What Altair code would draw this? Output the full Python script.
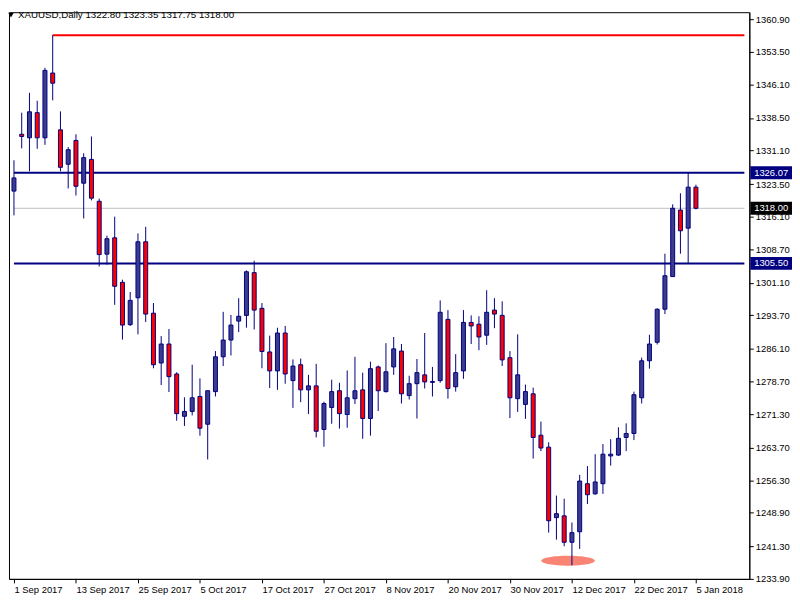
import altair as alt
import pandas as pd

# ---- data ----
opens = [1321.9, 1334.8, 1334.0, 1339.7, 1334.0, 1348.7, 1335.8, 1328.0, 1333.4, 1323.7,
         1329.1, 1319.6, 1307.6, 1311.3, 1301.2, 1291.6, 1297.7, 1310.4, 1294.2, 1282.9,
         1287.2, 1280.4, 1270.8, 1271.9, 1275.3, 1269.0, 1276.4, 1284.3, 1288.1, 1292.4,
         1293.7, 1303.4, 1295.3, 1285.4, 1281.1, 1289.7, 1278.9, 1282.5, 1276.8, 1277.7,
         1267.8, 1272.8, 1276.6, 1271.2, 1274.8, 1276.8, 1270.3, 1282.0, 1276.4, 1282.0,
         1285.6, 1275.5, 1278.2, 1280.2, 1278.5, 1278.9, 1292.8, 1277.5, 1281.1, 1292.1,
         1291.7, 1289.2, 1294.9, 1293.7, 1284.1, 1274.8, 1273.5, 1275.9, 1266.5, 1263.8,
         1247.8, 1248.2, 1242.2, 1244.6, 1255.5, 1253.2, 1255.5, 1261.8, 1262.0, 1266.0,
         1266.9, 1275.0, 1283.4, 1287.6, 1295.1, 1302.5, 1317.6, 1313.5, 1322.80]
highs = [1328.9, 1339.7, 1344.2, 1342.4, 1349.9, 1357.3, 1340.0, 1331.9, 1334.8, 1330.5,
         1334.3, 1320.2, 1311.8, 1316.1, 1301.8, 1299.0, 1312.3, 1313.8, 1296.5, 1289.0,
         1290.6, 1280.8, 1275.1, 1282.5, 1279.4, 1276.6, 1285.6, 1294.5, 1293.8, 1297.6,
         1303.9, 1306.1, 1296.5, 1289.1, 1290.9, 1291.3, 1283.7, 1283.9, 1280.2, 1282.7,
         1274.1, 1279.1, 1278.4, 1281.2, 1284.3, 1280.7, 1283.2, 1282.3, 1287.4, 1288.8,
         1287.2, 1280.0, 1283.8, 1289.7, 1282.0, 1297.1, 1294.9, 1284.9, 1294.9, 1293.7,
         1293.5, 1299.4, 1297.6, 1296.9, 1285.6, 1289.4, 1278.0, 1277.3, 1269.6, 1264.9,
         1252.8, 1252.1, 1246.7, 1257.5, 1259.5, 1262.2, 1264.5, 1265.6, 1268.3, 1269.2,
         1276.4, 1284.1, 1289.3, 1295.3, 1307.7, 1318.9, 1321.4, 1326.07, 1323.35]
lows = [1316.4, 1331.6, 1326.4, 1331.5, 1332.4, 1342.5, 1326.4, 1322.5, 1320.9, 1315.7,
        1319.8, 1304.8, 1305.2, 1296.1, 1288.2, 1291.3, 1289.4, 1292.2, 1281.7, 1277.9,
        1276.3, 1269.8, 1268.6, 1271.0, 1266.4, 1261.0, 1275.3, 1282.2, 1284.6, 1289.9,
        1290.9, 1290.5, 1281.7, 1277.2, 1276.8, 1278.2, 1272.7, 1274.0, 1271.3, 1266.0,
        1263.9, 1269.1, 1268.0, 1268.2, 1273.6, 1265.7, 1266.4, 1272.0, 1276.2, 1280.2,
        1273.7, 1274.6, 1270.3, 1277.1, 1275.3, 1278.4, 1274.8, 1276.4, 1279.3, 1287.2,
        1285.8, 1287.0, 1290.8, 1282.2, 1270.4, 1271.8, 1270.2, 1261.2, 1262.9, 1244.4,
        1242.8, 1241.3, 1237.0, 1240.7, 1250.9, 1253.0, 1253.2, 1259.6, 1261.8, 1262.9,
        1265.4, 1273.7, 1281.6, 1287.1, 1294.0, 1302.5, 1307.7, 1305.5, 1317.75]
closes = [1324.9, 1334.3, 1339.9, 1334.0, 1349.3, 1346.4, 1327.3, 1331.3, 1323.0, 1329.5,
          1320.3, 1307.5, 1311.1, 1300.3, 1291.5, 1297.1, 1310.4, 1294.0, 1282.5, 1287.2,
          1279.8, 1271.4, 1271.9, 1275.0, 1268.1, 1276.6, 1284.3, 1288.1, 1291.5, 1293.5,
          1303.6, 1294.9, 1285.5, 1281.1, 1289.7, 1280.4, 1282.2, 1276.8, 1277.7, 1267.4,
          1273.7, 1276.4, 1271.4, 1275.0, 1276.6, 1270.3, 1281.6, 1276.6, 1280.9, 1286.1,
          1275.9, 1278.2, 1280.7, 1278.6, 1278.7, 1294.4, 1277.1, 1280.7, 1292.1, 1291.3,
          1288.8, 1294.4, 1294.0, 1283.6, 1275.0, 1280.2, 1276.4, 1266.0, 1263.6, 1247.1,
          1248.7, 1242.2, 1244.4, 1256.1, 1253.0, 1255.9, 1262.2, 1262.2, 1265.8, 1266.9,
          1275.7, 1283.4, 1287.2, 1295.1, 1302.7, 1318.0, 1312.9, 1322.8, 1318.00]
bar_index = list(range(len(opens)))

tick_idx = [0, 8, 16, 24, 32, 40, 48, 56, 64, 72, 80, 88]
tick_labels = ["1 Sep 2017", "13 Sep 2017", "25 Sep 2017", "5 Oct 2017", "17 Oct 2017",
               "27 Oct 2017", "8 Nov 2017", "20 Nov 2017", "30 Nov 2017", "12 Dec 2017",
               "22 Dec 2017", "5 Jan 2018"]
price_ticks = [1233.9, 1241.3, 1248.9, 1256.3, 1263.7, 1271.3, 1278.7, 1286.1, 1293.7,
               1301.1, 1308.7, 1316.1, 1323.5, 1331.1, 1338.5, 1346.1, 1353.5, 1360.9]

level_prices = [1357.3, 1326.07, 1305.50, 1318.00]
level_start = [5, 0, 0, 0]
level_colors = ["#FF0000", "#000080", "#000080", "#C0C0C0"]
level_widths = [2, 2, 2, 1]

tag_prices = [1326.07, 1318.00, 1305.50]
tag_texts = ["1326.07", "1318.00", "1305.50"]
tag_bg = ["#000080", "#000000", "#000080"]

highlight_index = [71.5]
highlight_price = [1238.0]

title_text = ["XAUUSD,Daily  1322.80 1323.35 1317.75 1318.00"]

# ---- layout / style ----
W, H = 746, 571
X_MAX = 94.25
FONT = "Liberation Sans"
NAVY = "#000080"
BULL = "#3C3C8C"
BEAR = "#FF0000"

df = pd.DataFrame({"i": bar_index, "open": opens, "high": highs, "low": lows, "close": closes})
lv = pd.DataFrame({"price": level_prices, "start": level_start, "end": [X_MAX] * len(level_prices),
                   "color": level_colors, "w": level_widths})
tags = pd.DataFrame({"price": tag_prices, "text": tag_texts, "bg": tag_bg})
hl = pd.DataFrame({"i": highlight_index, "price": highlight_price})
tt = pd.DataFrame({"t": title_text})

xs = alt.Scale(domain=[0, X_MAX], nice=False, zero=False)
ys = alt.Scale(domain=[1233.9, 1362.5], nice=False, zero=False)

label_expr = "''"
for k, lab in reversed(list(zip(tick_idx, tick_labels))):
    label_expr = f"datum.value == {k} ? '{lab}' : ({label_expr})"

x_axis = alt.Axis(values=tick_idx, labelExpr=label_expr, title=None, grid=False,
                  labelAlign="left", labelPadding=2, tickSize=4, labelFont=FONT,
                  labelFontSize=9.5, labelColor="black", domainColor="black",
                  tickColor="black", labelFlush=False, labelOverlap=False)
y_axis = alt.Axis(values=price_ticks, format=".2f", orient="right", title=None, grid=False,
                  labelPadding=2, tickSize=4, labelFont=FONT, labelFontSize=9.5,
                  labelColor="black", domainColor="black", tickColor="black",
                  labelFlush=False, labelOverlap=False)

ellipse_path = "M-1,0A1,0.185,0,1,0,1,0A1,0.185,0,1,0,-1,0Z"
highlight = alt.Chart(hl).mark_point(shape=ellipse_path, filled=True, fill="#F98474",
                                     opacity=1, size=2916, strokeWidth=0, clip=True).encode(
    x=alt.X("i:Q", scale=xs, axis=x_axis),
    y=alt.Y("price:Q", scale=ys, axis=y_axis),
)

levels = alt.Chart(lv).mark_rule(clip=True).encode(
    x=alt.X("start:Q", scale=xs, axis=x_axis),
    x2="end:Q",
    y=alt.Y("price:Q", scale=ys, axis=y_axis),
    color=alt.Color("color:N", scale=None),
    strokeWidth=alt.StrokeWidth("w:Q", scale=None),
)

wicks = alt.Chart(df).mark_rule(color=NAVY, strokeWidth=1, clip=True).encode(
    x=alt.X("i:Q", scale=xs, axis=x_axis),
    y=alt.Y("low:Q", scale=ys, axis=y_axis),
    y2="high:Q",
)

bodies = alt.Chart(df).transform_calculate(
    dir="datum.close >= datum.open ? 'up' : 'down'"
).mark_bar(size=4, stroke=NAVY, strokeWidth=1, clip=True).encode(
    x=alt.X("i:Q", scale=xs, axis=x_axis),
    y=alt.Y("open:Q", scale=ys, axis=y_axis),
    y2="close:Q",
    color=alt.Color("dir:N", scale=alt.Scale(domain=["up", "down"], range=[BULL, BEAR]), legend=None),
)

box_path = "M-1,-0.31L1,-0.31L1,0.31L-1,0.31Z"
tag_boxes = alt.Chart(tags).mark_point(shape=box_path, filled=True, size=1764, opacity=1,
                                       strokeWidth=0).encode(
    x=alt.value(W + 22),
    y=alt.Y("price:Q", scale=ys, axis=y_axis),
    fill=alt.Fill("bg:N", scale=None),
)
tag_text = alt.Chart(tags).mark_text(align="center", baseline="middle", color="white",
                                     font=FONT, fontSize=9.5).encode(
    x=alt.value(W + 22),
    y=alt.Y("price:Q", scale=ys, axis=y_axis),
    text="text:N",
)

tri = alt.Chart(tt).mark_point(shape="triangle-down", filled=True, color="black",
                               size=30, opacity=1).encode(x=alt.value(2), y=alt.value(3))
title = alt.Chart(tt).mark_text(align="left", baseline="middle", color="black",
                                font=FONT, fontSize=9.8).encode(
    x=alt.value(9), y=alt.value(3), text="t:N")

chart = alt.layer(highlight, levels, wicks, bodies, tag_boxes, tag_text, tri, title).properties(
    width=W, height=H, padding=0, background="white"
).configure_view(stroke="black", strokeWidth=1)

chart.save("out.html", embed_options={"renderer": "svg", "actions": False})
